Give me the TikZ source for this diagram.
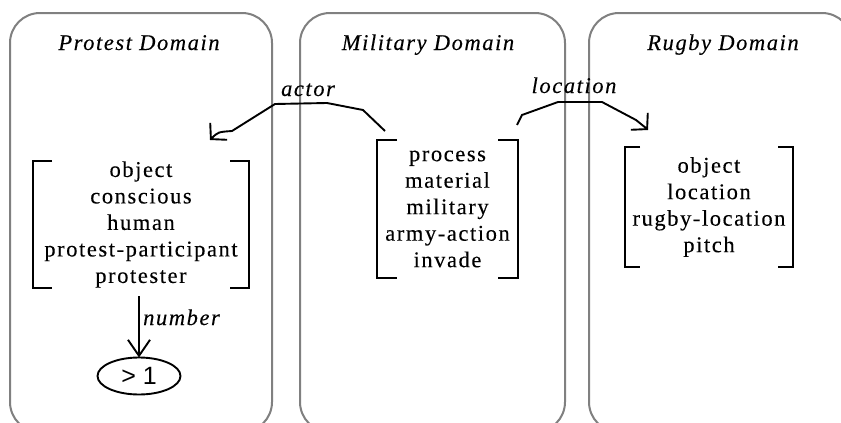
\documentclass[tikz,border=0pt]{standalone}
\usepackage{fontspec}
\setmainfont{Liberation Serif}[LetterSpace=7,FakeBold=0.2]
\newfontfamily\arialfont{Liberation Sans}
\usetikzlibrary{arrows.meta,shapes.geometric,calc}
\begin{document}
\begin{tikzpicture}[x=1pt,y=-1pt,
  panel/.style={draw=black!50, line width=2pt, rounded corners=30pt},
  title/.style={font=\fontsize{22.5}{26}\selectfont\itshape, anchor=base, inner sep=0},
  concept/.style={align=center, inner sep=0, outer sep=0, font=\fontsize{22.5}{26.5}\selectfont},
  bracket/.style={line width=2.6pt, line join=miter},
  rel/.style={line width=1.9pt, -{Straight Barb[length=11pt,width=24pt]}},
  numrel/.style={line width=1.9pt, -{Straight Barb[length=16pt,width=22pt]}},
  rellabel/.style={font=\fontsize{22.5}{26}\selectfont\itshape, anchor=base, inner sep=0},
  value/.style={draw, ellipse, line width=1.9pt, inner sep=0, outer sep=0, font=\arialfont\fontsize{25}{28}\selectfont}
]
\useasboundingbox (0,0) rectangle (841,423);
\clip (0,0) rectangle (841,423);
\fill[white] (0,0) rectangle (841,423);

% panels
\draw[panel] (10,13) rectangle (272,432);
\draw[panel] (300,13) rectangle (565,432);
\draw[panel] (589,13) rectangle (852,432);

% titles
\node[title] (tprot) at (139,50) {Protest Domain};
\node[title] (tmil) at (428,50) {Military Domain};
\node[title] (trug) at (723,50) {Rugby Domain};

% concept boxes
\node[concept, minimum width=216, minimum height=127] (prot) at (141,224.5)
  {object\\conscious\\human\\protest-participant\\protester};
\node[concept, minimum width=141, minimum height=138] (mil) at (447.5,209)
  {process\\material\\military\\army-action\\invade};
\node[concept, minimum width=168, minimum height=120] (rug) at (709,207)
  {object\\location\\rugby-location\\pitch};

% brackets
\draw[bracket] ([xshift=19pt]prot.north west) -- (prot.north west) -- (prot.south west) -- ([xshift=19pt]prot.south west);
\draw[bracket] ([xshift=-19pt]prot.north east) -- (prot.north east) -- (prot.south east) -- ([xshift=-19pt]prot.south east);
\draw[bracket] ([xshift=20pt]mil.north west) -- (mil.north west) -- (mil.south west) -- ([xshift=20pt]mil.south west);
\draw[bracket] ([xshift=-20pt]mil.north east) -- (mil.north east) -- (mil.south east) -- ([xshift=-20pt]mil.south east);
\draw[bracket] ([xshift=15pt]rug.north west) -- (rug.north west) -- (rug.south west) -- ([xshift=15pt]rug.south west);
\draw[bracket] ([xshift=-15pt]rug.north east) -- (rug.north east) -- (rug.south east) -- ([xshift=-15pt]rug.south east);

% value
\node[value, minimum width=83, minimum height=37] (gt) at (139,376) {> 1};

% relations
\draw[rel] ($(mil.north west)+(8,-9)$) -- (363,110) -- (327,103) -- (275,104) -- (232,131)
  .. controls (218,132) .. ($(prot.north east)+(-39,-21)$);
\node[rellabel] (lactor) at (308,96) {actor};

\draw[rel] ($(mil.north east)+(-1,-15)$) -- (522,115) -- (558,102) -- (602,102) -- (636,120)
  .. controls (642,124) .. ($(rug.north west)+(23,-17)$);
\node[rellabel] (lloc) at (574,93) {location};

\draw[numrel] (gt.north |- prot.south) ++(0,8) -- (gt.north);
\node[rellabel, anchor=base west] (lnum) at (143,325) {number};
\end{tikzpicture}
\end{document}
